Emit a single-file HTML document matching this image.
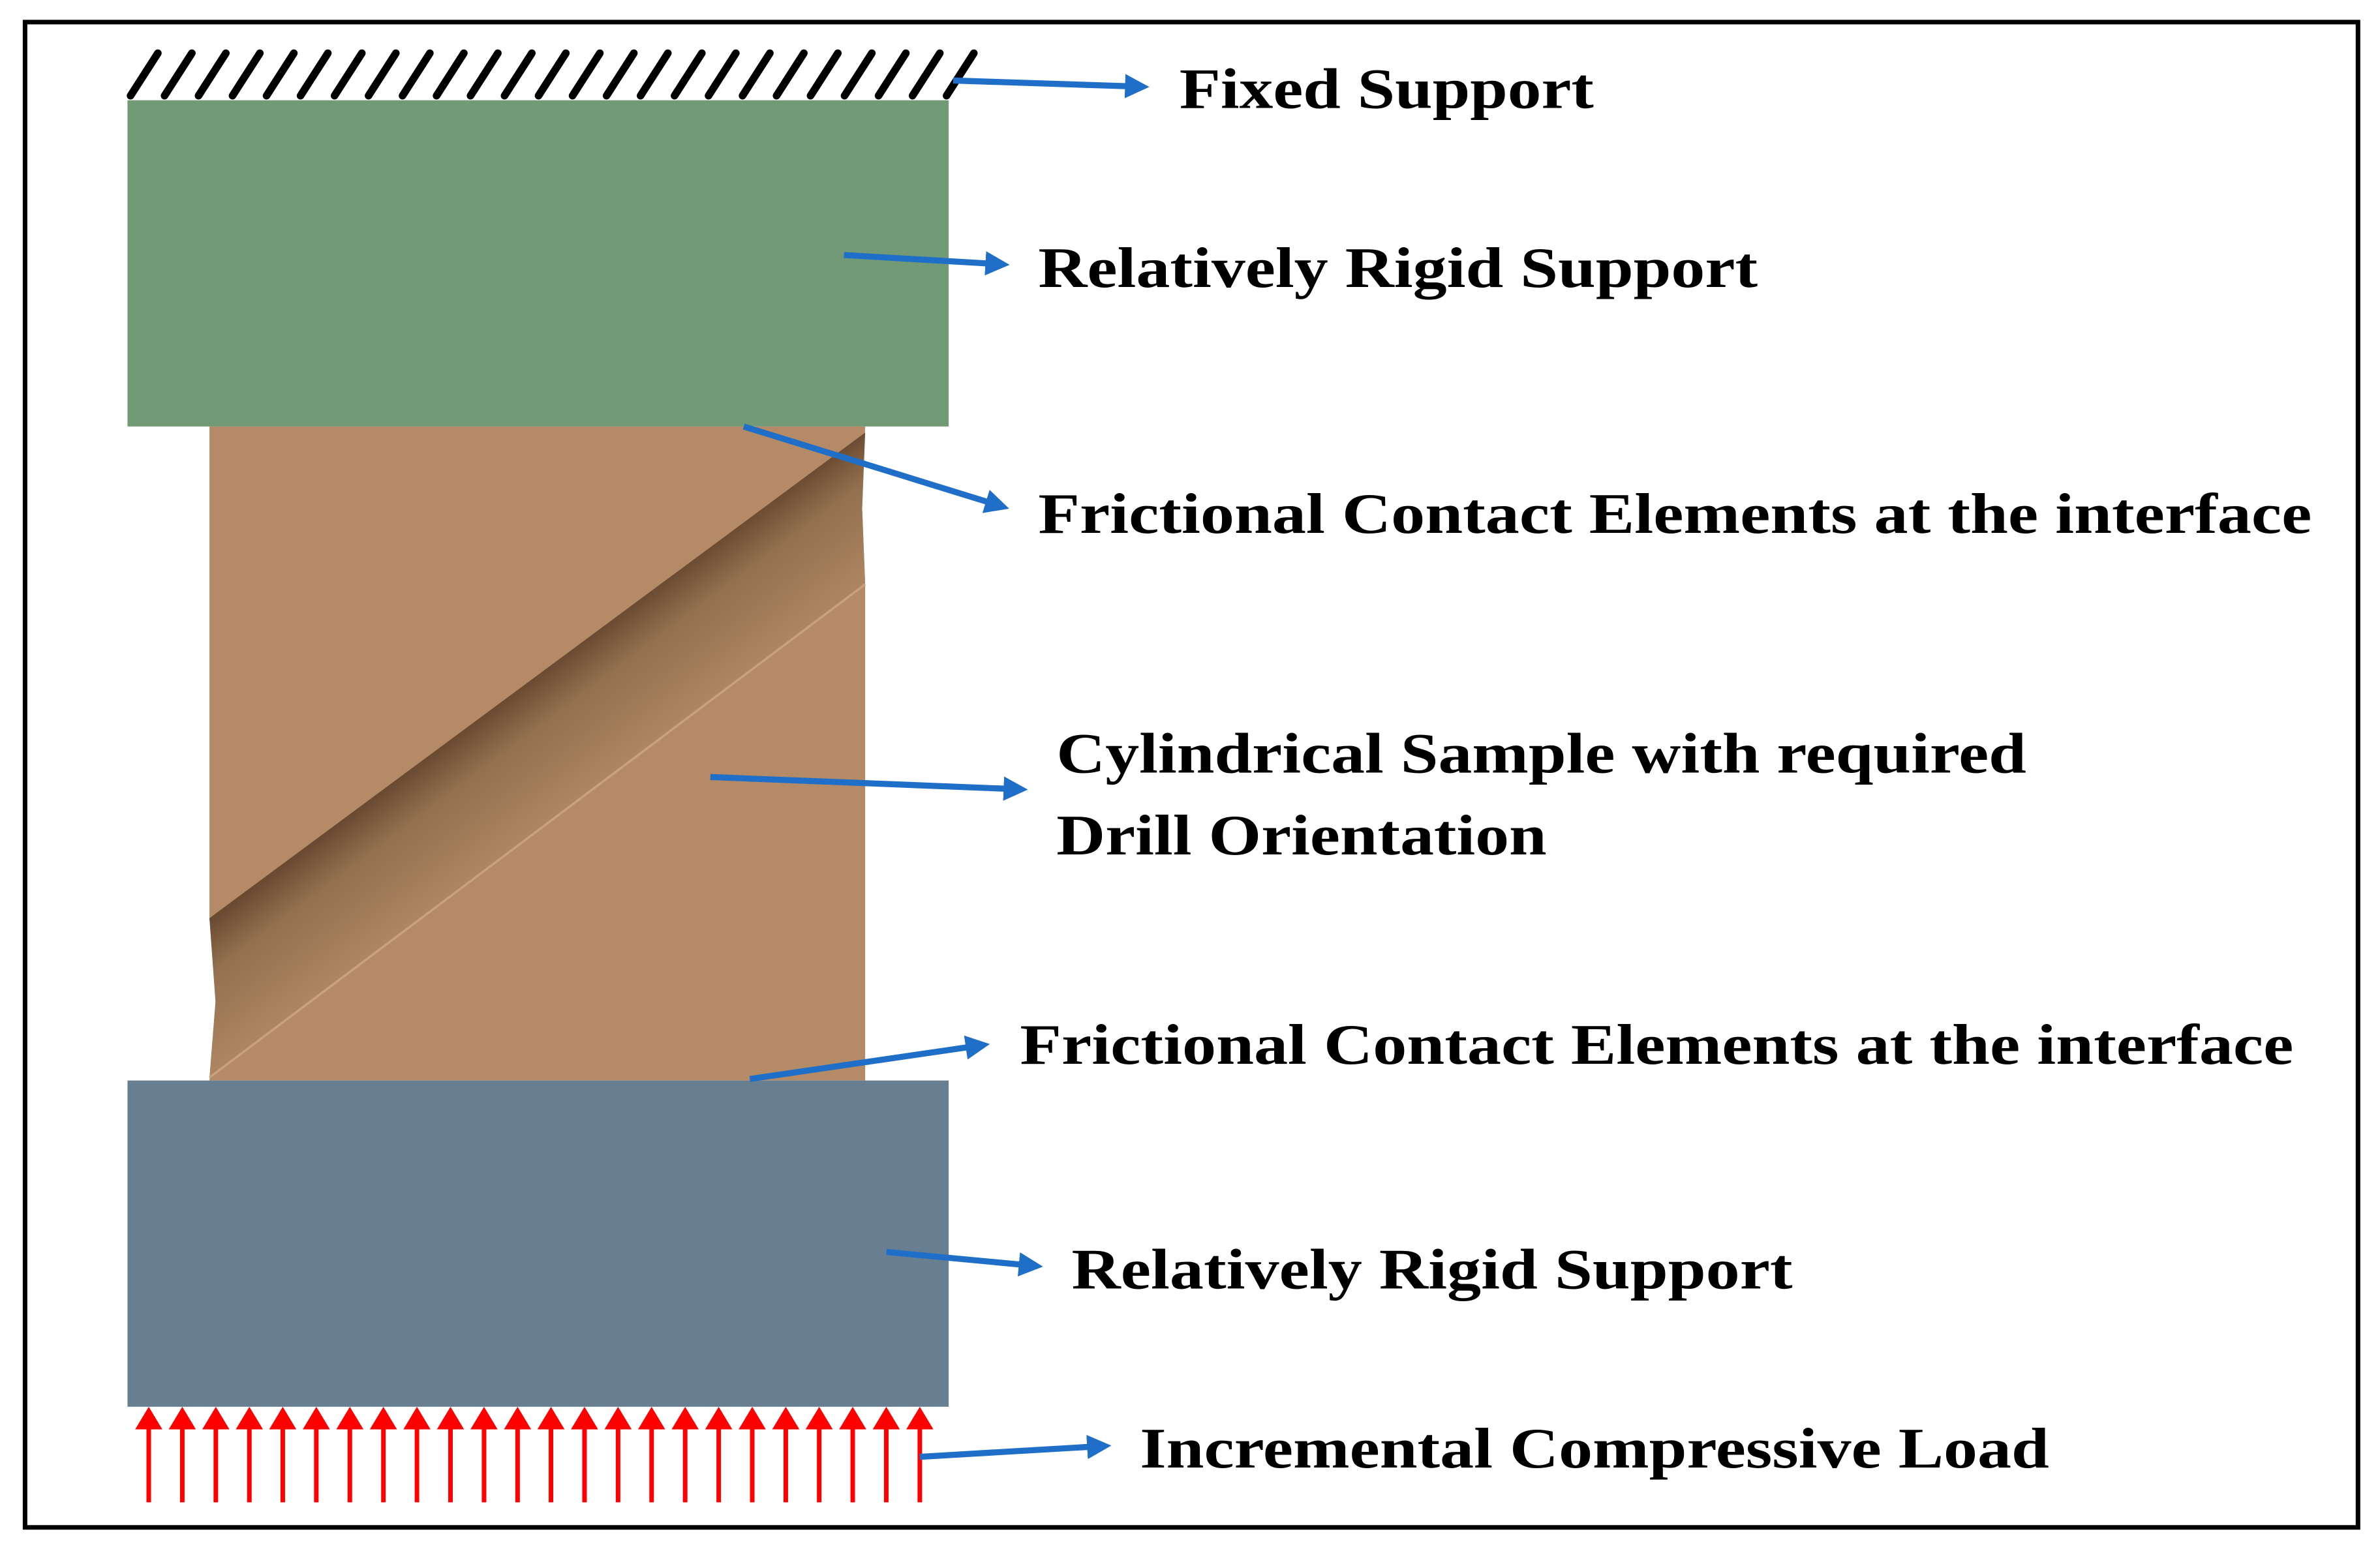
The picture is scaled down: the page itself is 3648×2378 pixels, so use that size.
<!DOCTYPE html>
<html><head><style>html,body{margin:0;padding:0;background:#fff}svg{display:block}
.t{font-family:"Liberation Serif","Times New Roman",serif;font-weight:bold;font-size:38px;fill:#000}</style></head>
<body>
<svg width="3648" height="2378" viewBox="0 0 1568 1022" xmlns="http://www.w3.org/2000/svg">
<defs>
<linearGradient id="band" gradientUnits="userSpaceOnUse" x1="354" y1="445" x2="402" y2="509">
<stop offset="0" stop-color="#6a4a31"/><stop offset="0.35" stop-color="#93704f"/><stop offset="1" stop-color="#ad8561"/>
</linearGradient>
<marker id="ah" markerWidth="4" markerHeight="4" refX="2.2" refY="2" orient="auto" markerUnits="strokeWidth">
<path d="M0,0 L4,2 L0,4 z" fill="#1f6fc9"/></marker>
<marker id="rh" markerWidth="5" markerHeight="6" refX="2" refY="3" orient="auto" markerUnits="strokeWidth">
<path d="M0,0 L5,3 L0,6 z" fill="#ff0000"/></marker>
</defs>
<rect x="0" y="0" width="1568" height="1022" fill="#fff"/>
<rect x="16.5" y="14.5" width="1537" height="992" fill="none" stroke="#000" stroke-width="3"/>
<g stroke="#000" stroke-width="5" stroke-linecap="round">
<line x1="86" y1="63" x2="104" y2="35"/><line x1="108.4" y1="63" x2="126.4" y2="35"/><line x1="130.8" y1="63" x2="148.8" y2="35"/><line x1="153.2" y1="63" x2="171.2" y2="35"/><line x1="175.6" y1="63" x2="193.6" y2="35"/><line x1="198" y1="63" x2="216" y2="35"/><line x1="220.4" y1="63" x2="238.4" y2="35"/><line x1="242.8" y1="63" x2="260.8" y2="35"/><line x1="265.2" y1="63" x2="283.2" y2="35"/><line x1="287.6" y1="63" x2="305.6" y2="35"/><line x1="310" y1="63" x2="328" y2="35"/><line x1="332.4" y1="63" x2="350.4" y2="35"/><line x1="354.8" y1="63" x2="372.8" y2="35"/><line x1="377.2" y1="63" x2="395.2" y2="35"/><line x1="399.6" y1="63" x2="417.6" y2="35"/><line x1="422" y1="63" x2="440" y2="35"/><line x1="444.4" y1="63" x2="462.4" y2="35"/><line x1="466.8" y1="63" x2="484.8" y2="35"/><line x1="489.2" y1="63" x2="507.2" y2="35"/><line x1="511.6" y1="63" x2="529.6" y2="35"/><line x1="534" y1="63" x2="552" y2="35"/><line x1="556.4" y1="63" x2="574.4" y2="35"/><line x1="578.8" y1="63" x2="596.8" y2="35"/><line x1="601.2" y1="63" x2="619.2" y2="35"/><line x1="623.6" y1="63" x2="641.6" y2="35"/>
</g>
<rect x="84" y="66" width="541" height="215" fill="#739a77"/>
<path d="M138,281 L570,281 L568,335 L570,385 L570,712 L138,712 L142,660 L138,605 Z" fill="#b48a67"/>
<path d="M570,285 L568,335 L570,385 L138,710 L142,660 L138,605 Z" fill="url(#band)"/>
<path d="M570,385 L138,710" stroke="#c9a27d" stroke-width="1.5"/>
<rect x="84" y="712" width="541" height="215" fill="#687f92"/>
<g stroke="#ff0000" stroke-width="3">
<line x1="98" y1="990" x2="98" y2="936" marker-end="url(#rh)"/><line x1="120.1" y1="990" x2="120.1" y2="936" marker-end="url(#rh)"/><line x1="142.2" y1="990" x2="142.2" y2="936" marker-end="url(#rh)"/><line x1="164.3" y1="990" x2="164.3" y2="936" marker-end="url(#rh)"/><line x1="186.3" y1="990" x2="186.3" y2="936" marker-end="url(#rh)"/><line x1="208.4" y1="990" x2="208.4" y2="936" marker-end="url(#rh)"/><line x1="230.5" y1="990" x2="230.5" y2="936" marker-end="url(#rh)"/><line x1="252.6" y1="990" x2="252.6" y2="936" marker-end="url(#rh)"/><line x1="274.7" y1="990" x2="274.7" y2="936" marker-end="url(#rh)"/><line x1="296.8" y1="990" x2="296.8" y2="936" marker-end="url(#rh)"/><line x1="318.9" y1="990" x2="318.9" y2="936" marker-end="url(#rh)"/><line x1="341" y1="990" x2="341" y2="936" marker-end="url(#rh)"/><line x1="363" y1="990" x2="363" y2="936" marker-end="url(#rh)"/><line x1="385.1" y1="990" x2="385.1" y2="936" marker-end="url(#rh)"/><line x1="407.2" y1="990" x2="407.2" y2="936" marker-end="url(#rh)"/><line x1="429.3" y1="990" x2="429.3" y2="936" marker-end="url(#rh)"/><line x1="451.4" y1="990" x2="451.4" y2="936" marker-end="url(#rh)"/><line x1="473.5" y1="990" x2="473.5" y2="936" marker-end="url(#rh)"/><line x1="495.6" y1="990" x2="495.6" y2="936" marker-end="url(#rh)"/><line x1="517.7" y1="990" x2="517.7" y2="936" marker-end="url(#rh)"/><line x1="539.7" y1="990" x2="539.7" y2="936" marker-end="url(#rh)"/><line x1="561.8" y1="990" x2="561.8" y2="936" marker-end="url(#rh)"/><line x1="583.9" y1="990" x2="583.9" y2="936" marker-end="url(#rh)"/><line x1="606" y1="990" x2="606" y2="936" marker-end="url(#rh)"/>
</g>
<g stroke="#1f6fc9" stroke-width="4" fill="none">
<line x1="628" y1="53" x2="750" y2="57" marker-end="url(#ah)"/>
<line x1="556" y1="168" x2="658" y2="174" marker-end="url(#ah)"/>
<line x1="490" y1="281" x2="658" y2="333" marker-end="url(#ah)"/>
<line x1="468" y1="512" x2="670" y2="520" marker-end="url(#ah)"/>
<line x1="494" y1="711" x2="645" y2="689" marker-end="url(#ah)"/>
<line x1="584" y1="825" x2="680" y2="834" marker-end="url(#ah)"/>
<line x1="606" y1="960" x2="725" y2="953" marker-end="url(#ah)"/>
</g>
<text class="t" x="777" y="71" textLength="273" lengthAdjust="spacingAndGlyphs">Fixed Support</text>
<text class="t" x="684" y="189" textLength="474" lengthAdjust="spacingAndGlyphs">Relatively Rigid Support</text>
<text class="t" x="684" y="351" textLength="839" lengthAdjust="spacingAndGlyphs">Frictional Contact Elements at the interface</text>
<text class="t" x="696" y="509" textLength="639" lengthAdjust="spacingAndGlyphs">Cylindrical Sample with required</text>
<text class="t" x="696" y="563" textLength="323" lengthAdjust="spacingAndGlyphs">Drill Orientation</text>
<text class="t" x="672" y="701" textLength="839" lengthAdjust="spacingAndGlyphs">Frictional Contact Elements at the interface</text>
<text class="t" x="706" y="849" textLength="475" lengthAdjust="spacingAndGlyphs">Relatively Rigid Support</text>
<text class="t" x="751" y="967" textLength="599" lengthAdjust="spacingAndGlyphs">Incremental Compressive Load</text>
</svg>
</body></html>
